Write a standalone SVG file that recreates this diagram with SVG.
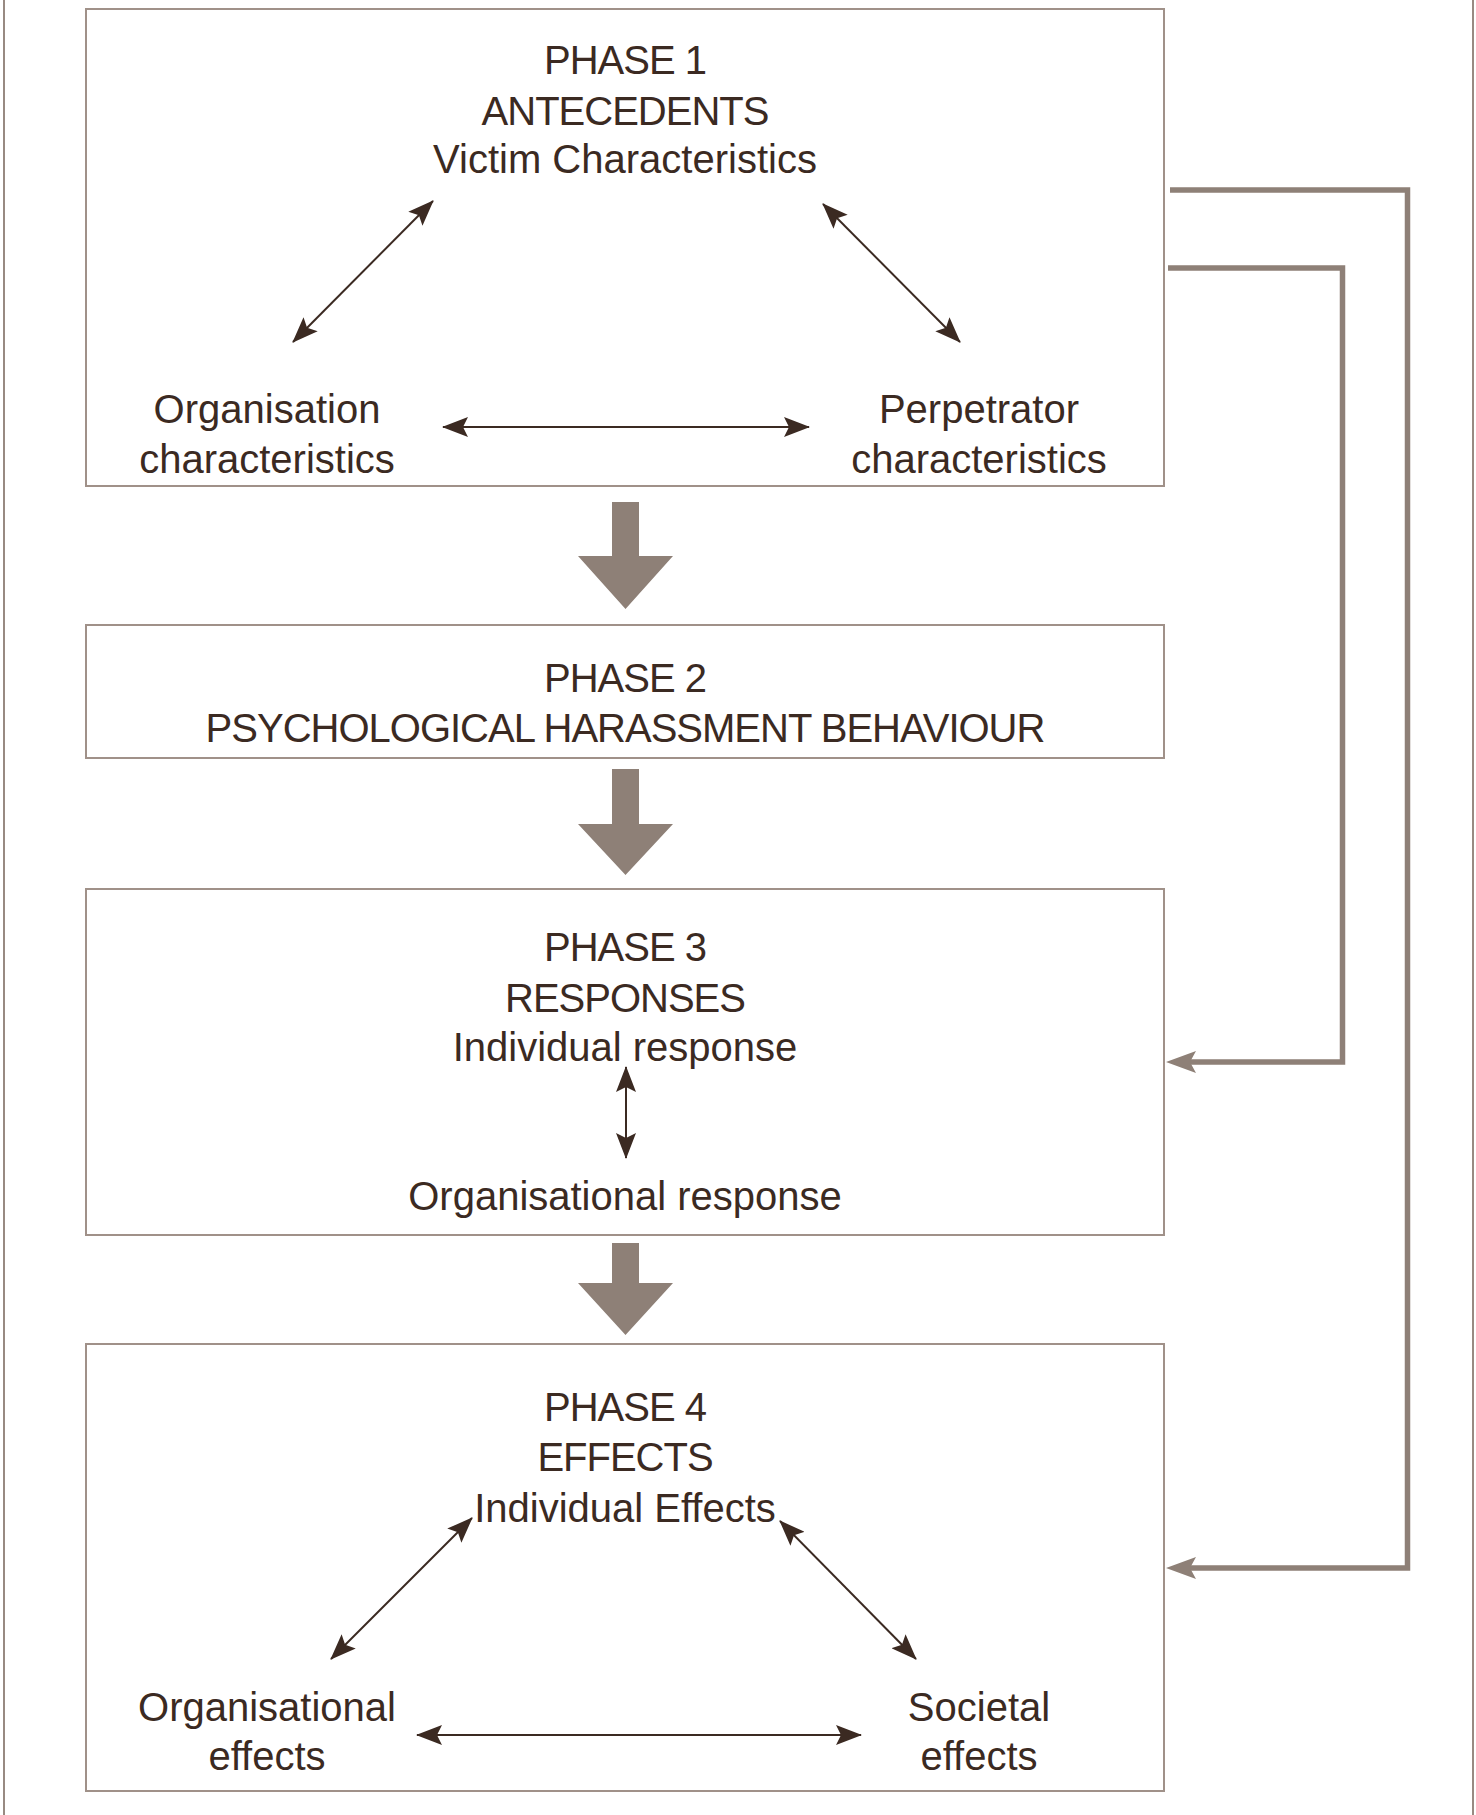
<svg xmlns="http://www.w3.org/2000/svg" width="1476" height="1815" viewBox="0 0 1476 1815">
<style>
.box{fill:#fff;stroke:#a09189;stroke-width:2}
.frame{fill:none;stroke:#988a82;stroke-width:2}
.t{font-family:"Liberation Sans",Arial,Helvetica,sans-serif;font-size:40px;fill:#3b2a22;text-anchor:middle}
.u{letter-spacing:-1px}
.link{fill:none;stroke:#3b2a22;stroke-width:2}
.fb{fill:none;stroke:#8e8077;stroke-width:5.5}
.fbh{fill:#8e8077}
.big{fill:#8e8077}
</style>
<defs>
<marker id="ah" viewBox="0 0 26 20" refX="25" refY="10" markerWidth="26" markerHeight="20" markerUnits="userSpaceOnUse" orient="auto-start-reverse">
<path d="M0,0 L26,10 L0,20 L5,10 Z" fill="#3b2a22"/>
</marker>
</defs>
<rect width="1476" height="1815" fill="#fff"/>
<path class="frame" d="M4,0 V1815 M1473,0 V1815"/>

<g id="phase1">
<rect class="box" x="86" y="9" width="1078" height="477"/>
<text class="t u" x="625" y="74">PHASE 1</text>
<text class="t u" x="625" y="125">ANTECEDENTS</text>
<text class="t" x="625" y="173">Victim Characteristics</text>
<text class="t" x="267" y="423">Organisation</text>
<text class="t" x="267" y="473">characteristics</text>
<text class="t" x="979" y="423">Perpetrator</text>
<text class="t" x="979" y="473">characteristics</text>
</g>

<g id="phase2">
<rect class="box" x="86" y="625" width="1078" height="133"/>
<text class="t u" x="625" y="692">PHASE 2</text>
<text class="t u" x="625" y="742">PSYCHOLOGICAL HARASSMENT BEHAVIOUR</text>
</g>

<g id="phase3">
<rect class="box" x="86" y="889" width="1078" height="346"/>
<text class="t u" x="625" y="961">PHASE 3</text>
<text class="t u" x="625" y="1012">RESPONSES</text>
<text class="t" x="625" y="1061">Individual response</text>
<text class="t" x="625" y="1210">Organisational response</text>
</g>

<g id="phase4">
<rect class="box" x="86" y="1344" width="1078" height="447"/>
<text class="t u" x="625" y="1421">PHASE 4</text>
<text class="t u" x="625" y="1471">EFFECTS</text>
<text class="t" x="625" y="1522">Individual Effects</text>
<text class="t" x="267" y="1721">Organisational</text>
<text class="t" x="267" y="1770">effects</text>
<text class="t" x="979" y="1721">Societal</text>
<text class="t" x="979" y="1770">effects</text>
</g>

<g id="connectors">
<line class="link" x1="433" y1="201" x2="293" y2="342" marker-start="url(#ah)" marker-end="url(#ah)"/>
<line class="link" x1="823" y1="204" x2="960" y2="342" marker-start="url(#ah)" marker-end="url(#ah)"/>
<line class="link" x1="443" y1="427" x2="809" y2="427" marker-start="url(#ah)" marker-end="url(#ah)"/>
<line class="link" x1="626" y1="1067" x2="626" y2="1158" marker-start="url(#ah)" marker-end="url(#ah)"/>
<line class="link" x1="472" y1="1518" x2="331" y2="1659" marker-start="url(#ah)" marker-end="url(#ah)"/>
<line class="link" x1="780" y1="1521" x2="916" y2="1659" marker-start="url(#ah)" marker-end="url(#ah)"/>
<line class="link" x1="417" y1="1735" x2="861" y2="1735" marker-start="url(#ah)" marker-end="url(#ah)"/>

<polygon class="big" points="612,502 639,502 639,556 673,556 625.5,609 578,556 612,556"/>
<polygon class="big" points="612,769 639,769 639,824 673,824 625.5,875 578,824 612,824"/>
<polygon class="big" points="612,1243 639,1243 639,1283 673,1283 625.5,1335 578,1283 612,1283"/>

<path class="fb" d="M1168,268 H1342.5 V1062 H1190"/>
<polygon class="fbh" points="1166,1062 1196,1051 1190,1062 1196,1073"/>
<path class="fb" d="M1170,190 H1407.5 V1568 H1190"/>
<polygon class="fbh" points="1166,1568 1196,1557 1190,1568 1196,1579"/>
</g>
</svg>
